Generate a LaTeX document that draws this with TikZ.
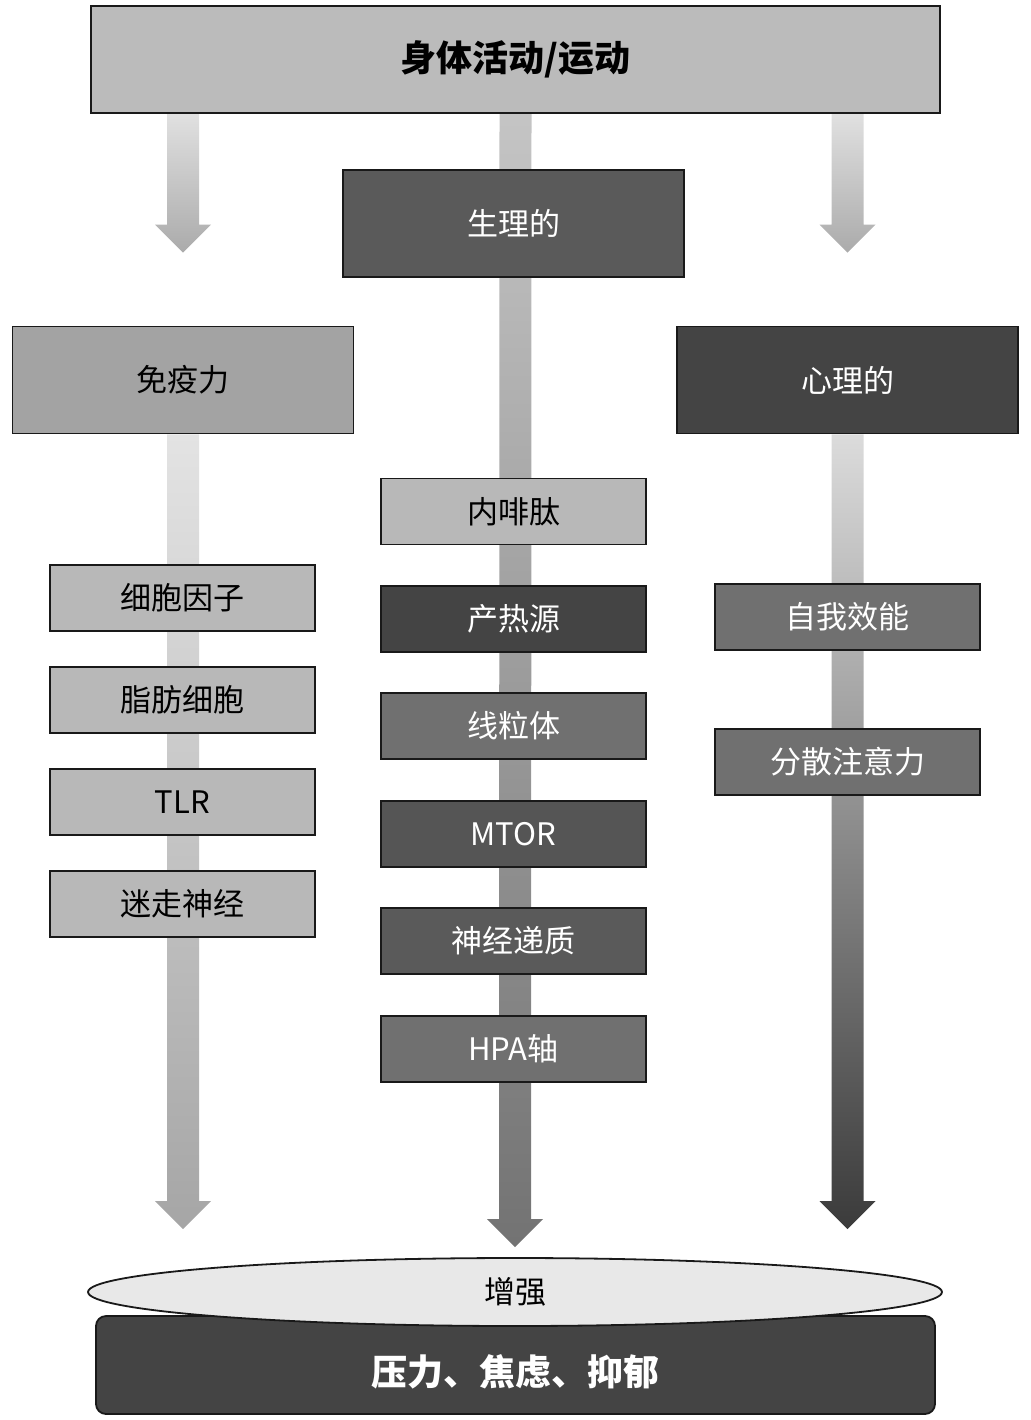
\documentclass[tikz,border=0pt]{standalone}
\usepackage{fontspec}
\setmainfont{Noto Sans CJK SC}
\usetikzlibrary{positioning, calc, shapes.geometric, backgrounds}

\definecolor{topgray}{HTML}{BBBBBB}
\definecolor{immgray}{HTML}{A3A3A3}
\definecolor{physgray}{HTML}{5A5A5A}
\definecolor{psygray}{HTML}{444444}
\definecolor{boxlight}{HTML}{B8B8B8}
\definecolor{boxmid}{HTML}{707070}
\definecolor{boxdark}{HTML}{555555}
\definecolor{boostgray}{HTML}{E8E8E8}

% broad shaded arrow: start, tip, top colour, bottom colour
\newcommand{\fatarrow}[4]{%
  \shade[top color=#3, bottom color=#4]
    ($(#1)+(-16,0)$) -- ($(#1)+(16,0)$) -- ($(#2)+(16,-28)$) -- ($(#2)+(28,-28)$)
    -- (#2) -- ($(#2)+(-28,-28)$) -- ($(#2)+(-16,-28)$) -- cycle;}

\begin{document}
\begin{tikzpicture}[x=1pt, y=-1pt,
  box/.style={draw=black!90, line width=1.8pt, inner sep=0pt,
    minimum width=265pt, minimum height=66pt, font=\fontsize{31}{34}\selectfont},
  bigbox/.style={box, minimum width=341pt, minimum height=107pt},
  light/.style={fill=#1, text=black},
  dark/.style={fill=#1, text=white}]
  \useasboundingbox (0,0) rectangle (1030,1420);

  % Kopf
  \node[box, light=topgray, minimum width=849pt, minimum height=107pt,
    font=\fontsize{36}{40}\selectfont\bfseries] (top) at (515.5,59.5) {身体活动/运动};
  \node[bigbox, dark=physgray] (phys) at (513.5,223.5) {生理的};
  \node[bigbox, light=immgray] (imm) at (183,380) {免疫力};
  \node[bigbox, dark=psygray] (psy) at (847.5,380) {心理的};

  % links
  \node[box, light=boxlight] (cyto) at (182.5,598) {细胞因子};
  \node[box, light=boxlight] (adipo) at (182.5,700) {脂肪细胞};
  \node[box, light=boxlight] (tlr) at (182.5,802) {TLR};
  \node[box, light=boxlight] (vagus) at (182.5,904) {迷走神经};

  % mitte
  \node[box, light=boxlight] (endo) at (513.5,511.5) {内啡肽};
  \node[box, dark=psygray] (thermo) at (513.5,619) {产热源};
  \node[box, dark=boxmid] (mito) at (513.5,726) {线粒体};
  \node[box, dark=boxdark] (mtor) at (513.5,834) {MTOR};
  \node[box, dark=physgray] (neuro) at (513.5,941) {神经递质};
  \node[box, dark=boxmid] (hpa) at (513.5,1049) {HPA轴};

  % rechts
  \node[box, dark=boxmid] (self) at (847.5,617) {自我效能};
  \node[box, dark=boxmid] (distr) at (847.5,762) {分散注意力};

  % unten
  \node[draw=black!90, line width=1.8pt, rounded corners=10pt, fill=psygray, text=white,
    minimum width=839pt, minimum height=98pt, inner sep=0pt,
    font=\fontsize{36}{40}\selectfont\bfseries] (outcome) at (515.5,1365)
    {\raisebox{-7pt}[\height][\depth]{压力、焦虑、抑郁}};
  \node[ellipse, draw=black!90, line width=1.8pt, fill=boostgray, inner sep=0pt,
    minimum width=854pt, minimum height=68pt,
    font=\fontsize{31}{34}\selectfont] (boost) at (515,1292) {增强};

  % Pfeile
  \coordinate (immtip) at ($(imm.north)+(0,-73)$);
  \coordinate (psytip) at ($(psy.north)+(0,-73)$);
  \coordinate (midtip) at ($(boost.north)+(0,-10)$);
  \coordinate (lefttip) at ($(boost.north -| imm)+(0,-28)$);
  \coordinate (righttip) at ($(boost.north -| psy)+(0,-28)$);
  \begin{scope}[on background layer]
    \fatarrow{top.south -| imm}{immtip}{black!12}{black!33}
    \fatarrow{top.south -| psy}{psytip}{black!12}{black!33}
    \fatarrow{top.south}{midtip}{black!23}{black!55}
    \fatarrow{imm.south}{lefttip}{black!11}{black!35}
    \fatarrow{psy.south}{righttip}{black!14}{black!77}
  \end{scope}
\end{tikzpicture}
\end{document}
